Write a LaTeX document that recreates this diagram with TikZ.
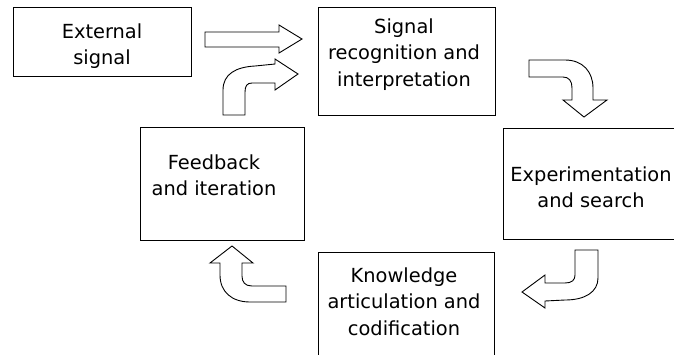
\documentclass[tikz,border=0pt]{standalone}
\usepackage{fontspec}
\setmainfont{DejaVu Sans}
\begin{document}
\begin{tikzpicture}[x=1pt,y=-1pt,
  box/.style={draw=black,line width=0.9pt,fill=white,anchor=north west,inner sep=0pt},
  txt/.style={align=center,anchor=north,inner sep=0pt,font=\fontsize{19.4}{26.5}\selectfont},
  blockarrow/.style={draw=black,line width=0.9pt,fill=white,line join=miter}]
\useasboundingbox (0,0) rectangle (674,354);
\clip (0,0) rectangle (674,354);
% boxes
\node[box,minimum width=178pt,minimum height=69pt] (b1) at (13,7) {};
\node[box,minimum width=177pt,minimum height=108pt] (b2) at (318,7) {};
\node[box,minimum width=164pt,minimum height=113pt] (b3) at (140,127) {};
\node[box,minimum width=190pt,minimum height=111pt] (b4) at (503,128) {};
\node[box,minimum width=176pt,minimum height=130pt] (b5) at (318,252) {};
% texts
\node[txt] (t1) at (102,19.45) {\strut External\\\strut signal};
\node[txt] (t2) at (404,14.45) {\strut Signal\\\strut recognition and\\\strut interpretation};
\node[txt] (t3) at (214,150.45) {\strut Feedback\\\strut and iteration};
\node[txt] (t4) at (591,162.45) {\strut Experimentation\\\strut and search};
\node[txt] (t5) at (404,263.45) {\strut Knowledge\\\strut articulation and\\\strut codification};
% block arrows
\draw[blockarrow] (205,32) -- (279,32) -- (279,25) -- (302,39) -- (279,53) -- (279,47) -- (205,47) -- cycle;
\draw[blockarrow] (223,115) -- (223,90) .. controls (223,74) and (236,67) .. (255,66) -- (275,64) -- (275,59) -- (298,74) -- (275,90) -- (275,83) -- (252,83) .. controls (247,83) and (245,86) .. (245,92) -- (245,115) -- cycle;
\draw[blockarrow] (529,60) -- (565,60) .. controls (583,60) and (593,72) .. (593,88) -- (593,100) -- (607,100) -- (584,117) -- (563,100) -- (572,100) -- (572,88) .. controls (572,81) and (569,77) .. (563,77) -- (529,77) -- cycle;
\draw[blockarrow] (575,250) -- (598,250) -- (598,278) .. controls (598,292) and (585,300) .. (565,300) -- (545,301) -- (545,308) -- (522,292) -- (545,275) -- (545,283) -- (565,283) .. controls (572,283) and (575,280) .. (575,275) -- cycle;
\draw[blockarrow] (286,286) -- (252,286) .. controls (245,286) and (242,282) .. (242,276) -- (242,263) -- (253,263) -- (232,246) -- (210,263) -- (220,263) -- (220,275) .. controls (220,292) and (232,302) .. (250,302) -- (286,302) -- cycle;
\end{tikzpicture}
\end{document}
